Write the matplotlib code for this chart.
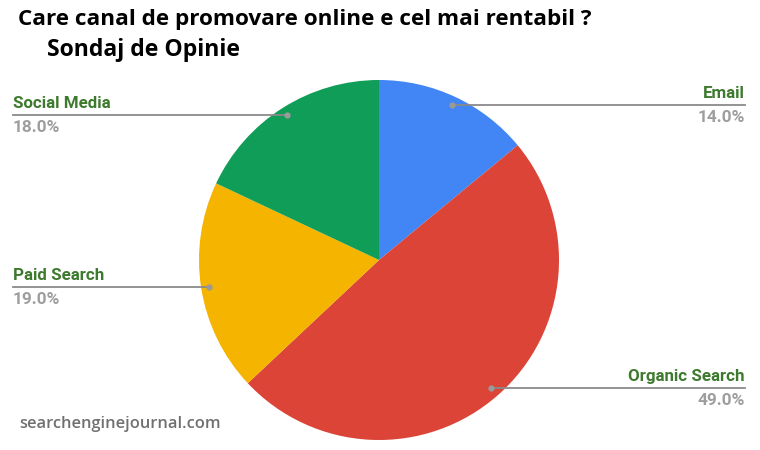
import matplotlib
matplotlib.use("Agg")
import matplotlib.pyplot as plt

categories = ["Email", "Organic Search", "Paid Search", "Social Media"]
values = [14.0, 49.0, 19.0, 18.0]
colors = ["#4285F4", "#DB4437", "#F4B400", "#0F9D58"]

W, H = 760, 450
fig = plt.figure(figsize=(W / 100, H / 100), dpi=100)
ax = fig.add_axes([0, 0, 1, 1])

def py(y):
    return H - y

cx, cy, r = 379, 260, 180
wedges, _ = ax.pie(values, colors=colors, startangle=90, counterclock=False,
                   center=(cx, py(cy)), radius=r, frame=True,
                   wedgeprops=dict(linewidth=0))
ax.set_xlim(0, W)
ax.set_ylim(0, H)
ax.axis("off")

# leader lines: (dot_x, line_y, end_x, side)
leaders = {
    "Email": (452, 105, 745, "right"),
    "Organic Search": (491, 388, 745, "right"),
    "Paid Search": (209, 287, 13, "left"),
    "Social Media": (287, 115, 13, "left"),
}
label_color = "#3d7a2e"
pct_color = "#9e9e9e"
for cat, val in zip(categories, values):
    dx, ly, ex, side = leaders[cat]
    ax.plot([dx, ex], [py(ly), py(ly)], color="#8a8a8a", lw=1.3, zorder=3)
    ax.plot([dx], [py(ly)], "o", color="#9a9a9a", ms=3.5, zorder=4)
    ha = "right" if side == "right" else "left"
    ax.text(ex, py(ly - 4), cat, ha=ha, va="bottom", fontsize=12.2,
            fontweight="bold", color=label_color, family="Roboto")
    ax.text(ex, py(ly + 5), f"{val:.1f}%", ha=ha, va="top", fontsize=12.4,
            fontweight="bold", color=pct_color, family="Roboto")

ax.text(18, py(20), "Care canal de promovare online e cel mai rentabil ?",
        ha="left", va="center", fontsize=16.2, fontweight="bold",
        color="black", family="Open Sans")
ax.text(47, py(50), "Sondaj de Opinie", ha="left", va="center",
        fontsize=16.6, fontweight="bold", color="black", family="Open Sans")
ax.text(19, py(424), "searchenginejournal.com", ha="left", va="center",
        fontsize=11.8, fontweight="semibold", color="#707070", family="Open Sans")

fig.savefig("out.png", dpi=100, facecolor="white")
